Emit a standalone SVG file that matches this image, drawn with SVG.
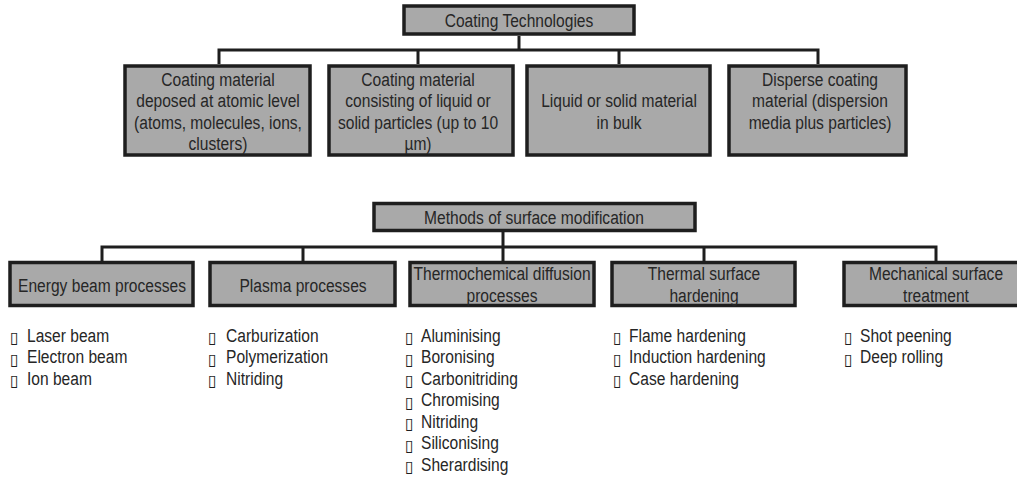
<svg xmlns="http://www.w3.org/2000/svg" width="1017" height="477" viewBox="0 0 1017 477">
<style>
.box{fill:#a9a9a9;stroke:#1e1e1e;stroke-width:3.5}
.conn{fill:none;stroke:#1e1e1e;stroke-width:3;stroke-linejoin:miter}
.t{font-family:"Liberation Sans",Arial,sans-serif;font-size:19px;fill:#262626}
.c{text-anchor:middle}
.b{font-family:"DejaVu Sans",sans-serif;font-size:16px;fill:#1e1e1e}
</style>
<rect width="1017" height="477" fill="#ffffff"/>
<g id="connectors">
<path class="conn" d="M519,36V50M219,64V50H818V64M418,50V64M619,50V64"/>
<path class="conn" d="M503,232V247M102,261V247H936V261M303,247V261M503,247V261M704,247V261"/>
</g>
<g id="coating-technologies">
<rect class="box" x="404" y="6" width="230" height="28"/>
<text class="t c" transform="translate(519,0) scale(0.82,1)" x="0" y="27">Coating Technologies</text>
</g>
<g id="atomic-level">
<rect class="box" x="125" y="66" width="185" height="89"/>
<text class="t c" transform="translate(218,0) scale(0.82,1)"><tspan x="0" y="86">Coating material</tspan><tspan x="0" y="107.5">deposed at atomic level</tspan><tspan x="0" y="129">(atoms, molecules, ions,</tspan><tspan x="0" y="150.5">clusters)</tspan></text>
</g>
<g id="particles">
<rect class="box" x="329" y="66" width="184" height="89"/>
<text class="t c" transform="translate(418,0) scale(0.82,1)"><tspan x="0" y="86">Coating material</tspan><tspan x="0" y="107.5">consisting of liquid or</tspan><tspan x="0" y="129">solid particles (up to 10</tspan><tspan x="0" y="150.5">µm)</tspan></text>
</g>
<g id="bulk">
<rect class="box" x="527" y="66" width="183" height="89"/>
<text class="t c" transform="translate(619,0) scale(0.82,1)"><tspan x="0" y="107.5">Liquid or solid material</tspan><tspan x="0" y="129">in bulk</tspan></text>
</g>
<g id="disperse">
<rect class="box" x="729" y="66" width="177" height="89"/>
<text class="t c" transform="translate(820,0) scale(0.82,1)"><tspan x="0" y="86">Disperse coating</tspan><tspan x="0" y="107.5">material (dispersion</tspan><tspan x="0" y="129">media plus particles)</tspan></text>
</g>
<g id="methods">
<rect class="box" x="374" y="203.5" width="321" height="27"/>
<text class="t c" transform="translate(534,0) scale(0.82,1)" x="0" y="224">Methods of surface modification</text>
</g>
<g id="energy-beam">
<rect class="box" x="10" y="262.5" width="183" height="43"/>
<text class="t c" transform="translate(102,0) scale(0.82,1)" x="0" y="292">Energy beam processes</text>
</g>
<g id="plasma">
<rect class="box" x="210" y="262.5" width="185" height="43"/>
<text class="t c" transform="translate(303,0) scale(0.82,1)" x="0" y="292">Plasma processes</text>
</g>
<g id="thermochemical">
<rect class="box" x="410" y="262.5" width="184" height="43"/>
<text class="t c" transform="translate(502,0) scale(0.82,1)"><tspan x="0" y="280.5">Thermochemical diffusion</tspan><tspan x="0" y="302">processes</tspan></text>
</g>
<g id="thermal">
<rect class="box" x="612" y="262.5" width="183" height="43"/>
<text class="t c" transform="translate(704,0) scale(0.82,1)"><tspan x="0" y="280.5">Thermal surface</tspan><tspan x="0" y="302">hardening</tspan></text>
</g>
<g id="mechanical">
<rect class="box" x="844" y="262.5" width="184" height="43"/>
<text class="t c" transform="translate(936,0) scale(0.82,1)"><tspan x="0" y="280.5">Mechanical surface</tspan><tspan x="0" y="302">treatment</tspan></text>
</g>
<g id="list-energy-beam">
<text class="b"><tspan x="10" y="343">▯</tspan><tspan x="10" y="364.5">▯</tspan><tspan x="10" y="386">▯</tspan></text>
<text class="t" transform="translate(27,0) scale(0.82,1)"><tspan x="0" y="342">Laser beam</tspan><tspan x="0" y="363.5">Electron beam</tspan><tspan x="0" y="385">Ion beam</tspan></text>
</g>
<g id="list-plasma">
<text class="b"><tspan x="208" y="343">▯</tspan><tspan x="208" y="364.5">▯</tspan><tspan x="208" y="386">▯</tspan></text>
<text class="t" transform="translate(226,0) scale(0.82,1)"><tspan x="0" y="342">Carburization</tspan><tspan x="0" y="363.5">Polymerization</tspan><tspan x="0" y="385">Nitriding</tspan></text>
</g>
<g id="list-thermochemical">
<text class="b"><tspan x="405" y="343">▯</tspan><tspan x="405" y="364.5">▯</tspan><tspan x="405" y="386">▯</tspan><tspan x="405" y="407.5">▯</tspan><tspan x="405" y="429">▯</tspan><tspan x="405" y="450.5">▯</tspan><tspan x="405" y="472">▯</tspan></text>
<text class="t" transform="translate(421,0) scale(0.82,1)"><tspan x="0" y="342">Aluminising</tspan><tspan x="0" y="363.5">Boronising</tspan><tspan x="0" y="385">Carbonitriding</tspan><tspan x="0" y="406.5">Chromising</tspan><tspan x="0" y="428">Nitriding</tspan><tspan x="0" y="449.5">Siliconising</tspan><tspan x="0" y="471">Sherardising</tspan></text>
</g>
<g id="list-thermal">
<text class="b"><tspan x="613" y="343">▯</tspan><tspan x="613" y="364.5">▯</tspan><tspan x="613" y="386">▯</tspan></text>
<text class="t" transform="translate(629,0) scale(0.82,1)"><tspan x="0" y="342">Flame hardening</tspan><tspan x="0" y="363.5">Induction hardening</tspan><tspan x="0" y="385">Case hardening</tspan></text>
</g>
<g id="list-mechanical">
<text class="b"><tspan x="844" y="343">▯</tspan><tspan x="844" y="364.5">▯</tspan></text>
<text class="t" transform="translate(860,0) scale(0.82,1)"><tspan x="0" y="342">Shot peening</tspan><tspan x="0" y="363.5">Deep rolling</tspan></text>
</g>
</svg>
